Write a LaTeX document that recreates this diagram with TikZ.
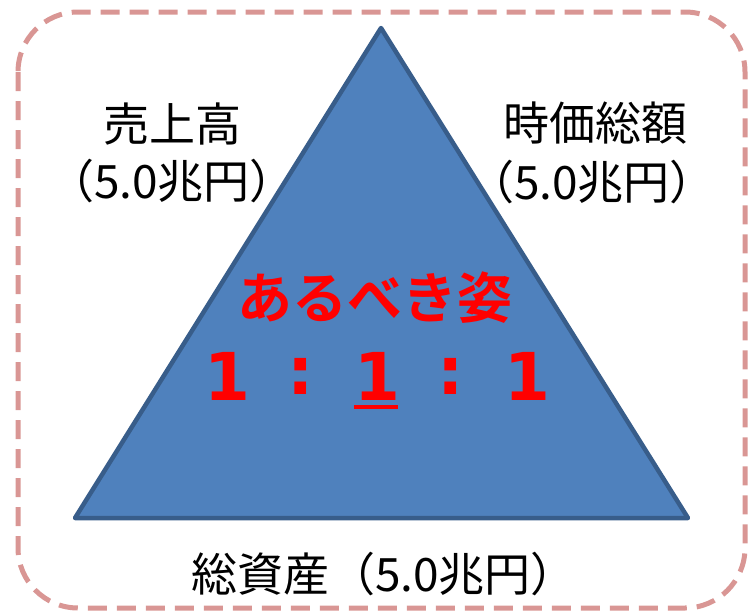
\documentclass[tikz,border=0pt]{standalone}
\usepackage{fontspec}
\newfontfamily\jp{Noto Sans CJK JP}[BoldFont={Noto Sans CJK JP Bold}]
\newfontfamily\dvb{DejaVu Sans Bold}
\definecolor{frameRed}{HTML}{D99694}
\definecolor{triFill}{HTML}{4F81BD}
\definecolor{triLine}{HTML}{385D8A}
\begin{document}
\begin{tikzpicture}[x=1pt,y=-1pt,
  lbl/.style={inner sep=0pt,font=\jp\fontsize{46}{50}\selectfont,text=black},
  redjp/.style={inner sep=0pt,font=\jp\bfseries\fontsize{55}{60}\selectfont,text=red},
  rednum/.style={inner sep=0pt,font=\dvb\fontsize{66}{70}\selectfont,text=red}]
\useasboundingbox (0,0) rectangle (750,613);
\draw[frameRed,line width=5pt,dash pattern=on 19pt off 10pt,rounded corners=60pt]
  (18,12) rectangle (745,608);
\coordinate (apex) at (381,28);
\coordinate (bl) at (75,518);
\coordinate (br) at (688,518);
\draw[fill=triFill,draw=triLine,line width=4.5pt,line join=round] (apex) -- (bl) -- (br) -- cycle;
\node[lbl] (sales) at (172,124) {売上高};
\node[lbl] (salesv) at (172,181) {（5.0兆円）};
\node[lbl] (mcap) at (595,123) {時価総額};
\node[lbl] (mcapv) at (592,182) {（5.0兆円）};
\node[lbl] (assets) at (384,574) {総資産（5.0兆円）};
\node[redjp] (ideal) at (375,298) {あるべき姿};
\node[rednum] (n1) at (227,376) {1};
\node[rednum] (c1) at (301,376) {:};
\node[rednum] (n2) at (377,376) {1};
\node[rednum] (c2) at (451,376) {:};
\node[rednum] (n3) at (527,376) {1};
\coordinate (ul1) at (354,407);
\coordinate (ul2) at (398,407);
\draw[red,line width=4pt] (ul1) -- (ul2);
\end{tikzpicture}
\end{document}
